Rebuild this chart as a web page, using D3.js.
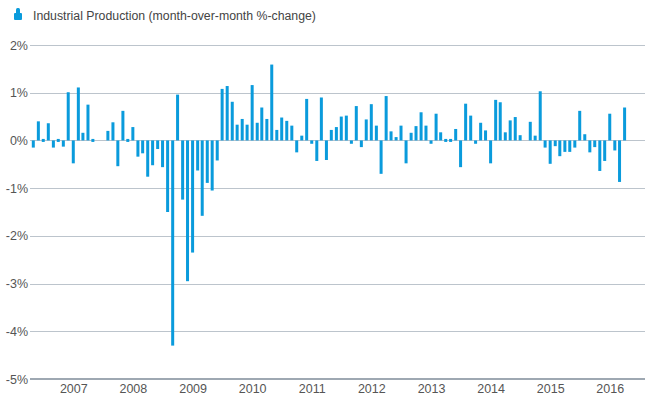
<!DOCTYPE html>
<html><head><meta charset="utf-8">
<script src="https://cdn.jsdelivr.net/npm/d3@7"></script>
<style>body{margin:0;background:#fff;font-family:"Liberation Sans",Arial,sans-serif;}</style>
</head><body><svg id="c" width="650" height="400"></svg>
<script>
const startYear = 2006, startMonth = 4; // May 2006 (0-based month)
const values = [
 -0.15,0.40,0.03,0.36,-0.15,-0.03,-0.13,1.01,
 -0.48,1.11,0.16,0.75,0.06,null,null,0.20,0.38,-0.54,0.62,0.03,
 0.28,-0.34,-0.27,-0.76,-0.52,-0.18,-0.56,-1.50,-4.30,0.96,-1.24,-2.95,
 -2.35,-0.63,-1.58,-0.89,-1.05,-0.42,1.08,1.14,0.81,0.33,0.45,0.33,
 1.16,0.37,0.69,0.45,1.59,0.22,0.48,0.41,0.31,-0.25,0.10,0.87,
 -0.07,-0.43,0.90,-0.41,0.22,0.28,0.50,0.52,-0.07,0.72,-0.14,0.44,
 0.76,0.31,-0.70,0.93,0.19,0.07,0.31,-0.48,0.16,0.30,0.59,0.31,
 -0.07,0.56,0.17,-0.06,0.05,0.24,-0.56,0.77,0.52,-0.07,0.37,0.21,
 -0.48,0.85,0.80,0.17,0.42,0.49,0.11,null,0.39,0.10,1.03,-0.15,
 -0.49,-0.12,-0.33,-0.24,-0.24,-0.15,0.62,0.13,-0.25,-0.14,-0.64,-0.43,
 0.56,-0.21,-0.87,0.69
];
const yTicks = [2,1,0,-1,-2,-3,-4,-5];
const xYears = [2007,2008,2009,2010,2011,2012,2013,2014,2015,2016];
const seriesName = "Industrial Production (month-over-month %-change)";

const data = values.map((v,i)=>({date:new Date(Date.UTC(startYear,startMonth+i,1)), v}));
const svg = d3.select("#c");
const L = 30, R = 645, T = 45, B = 379;
const x = d3.scaleUtc()
  .domain([new Date(Date.UTC(2006,4,1)), new Date(Date.UTC(2016,3,1))])
  .range([33.3, 624.6]);
const y = d3.scaleLinear().domain([-5,2]).range([B,T]);

// gridlines
svg.append("g").selectAll("line").data(yTicks.filter(d=>d!==-5)).join("line")
  .attr("x1",L).attr("x2",R)
  .attr("y1",d=>Math.round(y(d))+0.5).attr("y2",d=>Math.round(y(d))+0.5)
  .attr("stroke","#bcc4cc").attr("stroke-width",1);
// bottom axis line
svg.append("line").attr("x1",L).attr("x2",R).attr("y1",Math.round(y(-5))).attr("y2",Math.round(y(-5)))
  .attr("stroke","#9ea8b2").attr("stroke-width",2);

// y labels
svg.append("g").selectAll("text").data(yTicks).join("text")
  .attr("x",28).attr("y",d=>y(d)+4.5).attr("text-anchor","end")
  .attr("font-size",12.5).attr("fill","#555").text(d=>d+"%");

// x labels
const xAxis = d3.axisBottom(x).tickValues(xYears.map(yr=>new Date(Date.UTC(yr,0,1))))
  .tickFormat(d=>d.getUTCFullYear()).tickSize(0).tickPadding(5);
const gx = svg.append("g").attr("transform",`translate(0,${B})`).call(xAxis);
gx.select(".domain").remove();
gx.selectAll("text").attr("font-size",12.5).attr("fill","#555").attr("font-family","Liberation Sans, Arial, sans-serif");

// bars
const bw = 3;
const y0 = y(0);
svg.append("g").selectAll("rect").data(data.filter(d=>d.v!==null)).join("rect")
  .attr("x",d=>x(d.date)-bw/2).attr("width",bw)
  .attr("y",d=>{const h=Math.abs(y(d.v)-y0); if(h<3) return y0-1.5; return Math.min(y(d.v),y0);})
  .attr("height",d=>Math.max(3,Math.abs(y(d.v)-y0)))
  .attr("fill","#0a9bdc");

// legend
const lg = svg.append("g");
lg.append("rect").attr("x",14).attr("y",13).attr("width",8).attr("height",7).attr("rx",1).attr("fill","#0a9bdc");
lg.append("rect").attr("x",16).attr("y",8).attr("width",4).attr("height",7).attr("rx",1.5).attr("fill","#0a9bdc");
lg.append("text").attr("x",33).attr("y",20).attr("font-size",12.3).attr("fill","#444").text(seriesName);
</script></body></html>
